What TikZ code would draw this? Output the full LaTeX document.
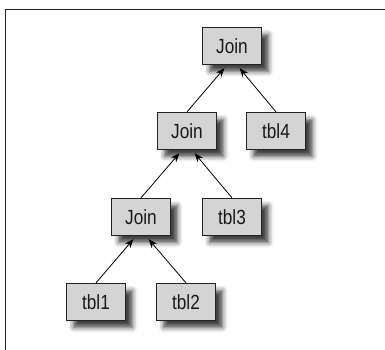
\documentclass[tikz,border=0pt]{standalone}
\usepackage{fontspec}
\setmainfont{Liberation Sans}[FakeStretch=0.84]
\usetikzlibrary{arrows.meta,shadows.blur}
\definecolor{boxfill}{RGB}{212,212,212}
\definecolor{boxline}{RGB}{35,35,35}
\definecolor{textcol}{RGB}{25,25,25}
\tikzset{
  opbox/.style={draw=boxline, line width=1.2pt, fill=boxfill, text=textcol,
    minimum width=59pt, minimum height=37pt, inner sep=0pt,
    font=\fontsize{20.5}{21}\selectfont,
    blur shadow={shadow xshift=7pt, shadow yshift=-7pt, shadow blur radius=5pt, shadow opacity=75}},
  edge/.style={draw=black, line width=0.8pt, -{Stealth[length=9pt,width=7pt]}, shorten >=4pt}
}
\begin{document}
\begin{tikzpicture}[x=1pt,y=-1pt]
\useasboundingbox (0,0) rectangle (385,350);
\draw[line width=1.1pt, draw=boxline] (5.5,350) -- (5.5,9.5) -- (385,9.5);
\node[opbox] (j1) at (232,46) {Join};
\node[opbox] (j2) at (187,131) {Join};
\node[opbox] (t4) at (276,131) {tbl4};
\node[opbox] (j3) at (141,217) {Join};
\node[opbox] (t3) at (232,217) {tbl3};
\node[opbox] (t1) at (96,302) {tbl1};
\node[opbox] (t2) at (186,302) {tbl2};
\draw[edge] (j2.north) -- ([xshift=-5pt]j1.south);
\draw[edge] (t4.north) -- ([xshift=5pt]j1.south);
\draw[edge] (j3.north) -- ([xshift=-5pt]j2.south);
\draw[edge] (t3.north) -- ([xshift=5pt]j2.south);
\draw[edge] (t1.north) -- ([xshift=-5pt]j3.south);
\draw[edge] (t2.north) -- ([xshift=5pt]j3.south);
\end{tikzpicture}
\end{document}
